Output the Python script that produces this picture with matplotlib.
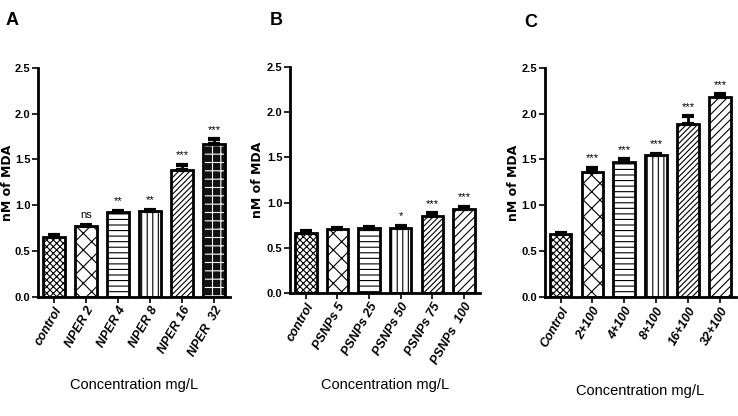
import numpy as np
import matplotlib
matplotlib.use('Agg')
import matplotlib.pyplot as plt

# panel A
labels_a = ["control", "NPER 2", "NPER 4", "NPER 8", "NPER 16", "NPER  32"]
mda_a = [0.66, 0.77, 0.93, 0.94, 1.39, 1.67]
err_a = [0.02, 0.02, 0.01, 0.01, 0.05, 0.05]
sig_a = ["", "ns", "**", "**", "***", "***"]

# panel B
labels_b = ["control", "PSNPs 5", "PSNPs 25", "PSNPs 50", "PSNPs 75", "PSNPs  100"]
mda_b = [0.66, 0.71, 0.72, 0.72, 0.85, 0.93]
err_b = [0.02, 0.01, 0.005, 0.02, 0.03, 0.02]
sig_b = ["", "", "", "*", "***", "***"]

# panel C
labels_c = ["Control", "2+100", "4+100", "8+100", "16+100", "32+100"]
mda_c = [0.69, 1.36, 1.47, 1.55, 1.89, 2.18]
err_c = [0.005, 0.05, 0.03, 0.01, 0.08, 0.03]
sig_c = ["", "***", "***", "***", "***", "***"]

hatches_a = ["xxxxx", "XX", "---", "|||", "//////", "brick"]
hatches_b = ["xxxxx", "XX", "---", "|||", "//////", "////"]
hatches_c = ["xxxxx", "XX", "---", "|||", "//////", "////"]

NARROW = ["Liberation Sans Narrow", "Liberation Sans", "DejaVu Sans"]
plt.rcParams['hatch.linewidth'] = 0.8


def draw_panel(ax, labels, vals, errs, sigs, hatches, letter, lx, ly, xlab_y, ylab_x):
    x = np.arange(len(vals))
    for i in range(len(vals)):
        h = hatches[i]
        if h == "brick":
            ax.bar(x[i], vals[i], width=0.68, color='#111111', edgecolor='white',
                   hatch='++', linewidth=0, zorder=2)
        else:
            ax.bar(x[i], vals[i], width=0.68, color='white', edgecolor='black',
                   hatch=h, linewidth=0, zorder=2)
        ax.bar(x[i], vals[i], width=0.68, color='none', edgecolor='black',
               linewidth=2, zorder=3)
    ax.errorbar(x, vals, yerr=[np.zeros(len(errs)), errs], fmt='none',
                ecolor='black', elinewidth=2, capsize=4, capthick=3, zorder=4)
    for i in range(len(vals)):
        if sigs[i]:
            ax.text(x[i], vals[i] + errs[i] + 0.05, sigs[i], ha='center', va='bottom',
                    fontsize=8, family=NARROW)
    ax.set_xlim(-0.5, len(vals) - 0.5)
    ax.set_ylim(0, 2.5)
    ax.set_yticks([0, 0.5, 1.0, 1.5, 2.0, 2.5])
    ax.set_yticklabels(["0.0", "0.5", "1.0", "1.5", "2.0", "2.5"], family=NARROW,
                       fontsize=8, fontweight='bold')
    ax.set_xticks(x)
    ax.set_xticklabels(labels, rotation=60, ha='right', rotation_mode='anchor',
                       fontsize=9, fontweight='bold', style='italic', family=NARROW)
    ax.tick_params(axis='both', width=1.2, length=4, pad=1.5)
    for s in ['top', 'right']:
        ax.spines[s].set_visible(False)
    for s in ['left', 'bottom']:
        ax.spines[s].set_linewidth(2)
    ax.set_ylabel("nM of MDA", fontsize=9, fontweight='bold')
    ax.yaxis.set_label_coords(ylab_x, 0.5)
    fig.text(lx, ly, letter, fontsize=13, fontweight='bold', family=NARROW)
    pos = ax.get_position()
    fig.text((pos.x0 + pos.x1) / 2, xlab_y, "Concentration mg/L", ha='center',
             fontsize=10.5, family=NARROW)


fig = plt.figure(figsize=(7.38, 4.16), dpi=100)
ax_a = fig.add_axes([0.0515, 0.286, 0.2605, 0.551])
ax_b = fig.add_axes([0.393, 0.296, 0.257, 0.543])
ax_c = fig.add_axes([0.738, 0.286, 0.259, 0.551])

draw_panel(ax_a, labels_a, mda_a, err_a, sig_a, hatches_a, "A", 0.007, 0.94, 0.065, -0.125)
draw_panel(ax_b, labels_b, mda_b, err_b, sig_b, hatches_b, "B", 0.365, 0.94, 0.065, -0.135)
draw_panel(ax_c, labels_c, mda_c, err_c, sig_c, hatches_c, "C", 0.71, 0.935, 0.05, -0.13)

fig.savefig("out.png", dpi=100)
